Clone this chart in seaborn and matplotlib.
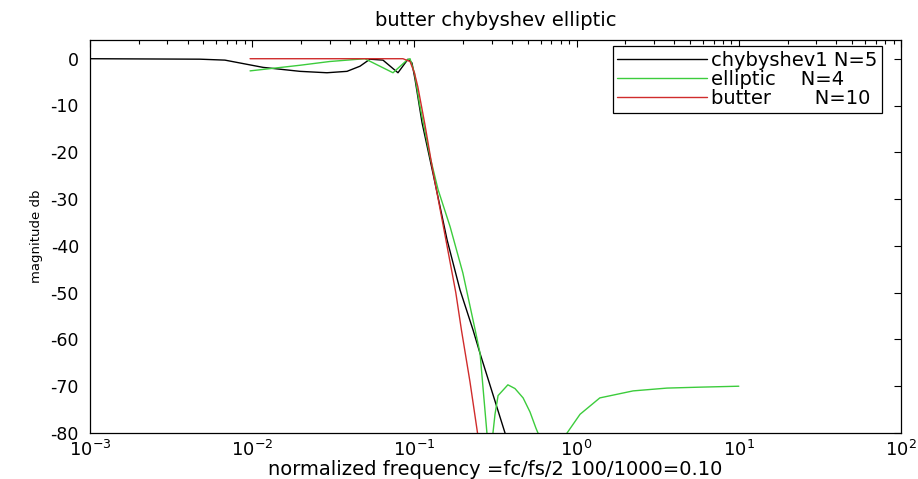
import numpy as np
import pandas as pd
import matplotlib
matplotlib.use("Agg")
import matplotlib.pyplot as plt
import seaborn as sns

# ---- data (normalized frequency, magnitude dB) ----
cheb_f = [0.001, 0.00476, 0.00679, 0.01166, 0.0197, 0.0289, 0.0384, 0.0462, 0.0532,
          0.064, 0.0792, 0.0913, 0.0966, 0.101, 0.1115, 0.130, 0.159, 0.191, 0.230,
          0.254, 0.362, 0.40]
cheb_db = [0, -0.1, -0.3, -1.85, -2.7, -3.0, -2.7, -1.6, -0.1,
           -0.3, -3.0, -0.1, -0.9, -4.5, -13.7, -24.4, -38.7, -49.4, -58,
           -63, -80, -85]

ellip_f = [0.0097, 0.0197, 0.030, 0.0495, 0.0738, 0.090, 0.094, 0.1, 0.108, 0.125,
           0.140, 0.166, 0.199, 0.237, 0.254, 0.280, 0.292, 0.305, 0.314, 0.328,
           0.377, 0.417, 0.468, 0.516, 0.562, 0.578, 0.705, 0.873, 1.05, 1.39,
           2.23, 3.61, 5.77, 10.0]
ellip_db = [-2.6, -1.4, -0.6, 0, -3.0, -0.3, 0, -3, -10, -21,
            -28, -35.9, -45.8, -58, -63, -80, -100, -80, -76, -72,
            -69.7, -70.5, -72.5, -75.5, -79, -80, -100, -80, -76, -72.5,
            -71, -70.4, -70.2, -70.0]

butter_f = [0.0097, 0.085, 0.094, 0.1, 0.105, 0.116, 0.130, 0.155, 0.180, 0.195,
            0.220, 0.245, 0.262]
butter_db = [0, 0, -0.6, -3, -6, -14, -24, -38, -50, -58,
             -69, -80, -86]

labels = ["chybyshev1 N=5", "elliptic    N=4", "butter       N=10"]
colors = ["#000000", "#3ccc3c", "#d02c2c"]
y_ticks = list(range(-80, 1, 10))
title = "butter chybyshev elliptic"
xlabel = "normalized frequency =fc/fs/2 100/1000=0.10"
ylabel = "magnitude db"

df = pd.concat([
    pd.DataFrame({"f": cheb_f, "db": cheb_db, "filter": labels[0]}),
    pd.DataFrame({"f": ellip_f, "db": ellip_db, "filter": labels[1]}),
    pd.DataFrame({"f": butter_f, "db": butter_db, "filter": labels[2]}),
], ignore_index=True)

sns.set_theme(style="white")
plt.rcParams["font.family"] = ["DejaVu Sans"]
plt.rcParams["text.color"] = "black"
plt.rcParams["axes.labelcolor"] = "black"

W, H = 918, 479
fig = plt.figure(figsize=(W / 100, H / 100), dpi=100)
L, R, T, B = 90, 901, 40, 433
ax = fig.add_axes([L / W, 1 - B / H, (R - L) / W, (B - T) / H])

sns.lineplot(data=df, x="f", y="db", hue="filter", hue_order=labels,
             palette=dict(zip(labels, colors)), estimator=None, sort=False,
             linewidth=1.0, ax=ax)

ax.set_xscale("log")
ax.set_xlim(1e-3, 1e2)
ax.set_ylim(-80, 4)
ax.set_yticks(y_ticks)
ax.set_yticklabels([str(v) for v in y_ticks])
ax.tick_params(axis="both", which="both", direction="in", top=True, right=True,
               colors="black")
ax.tick_params(axis="x", labelsize=13, pad=5)
ax.tick_params(axis="y", labelsize=12.5, pad=8)
ax.tick_params(which="major", length=5, width=0.8)
ax.tick_params(which="minor", length=3, width=0.8)
for s in ax.spines.values():
    s.set_color("black")
    s.set_linewidth(0.9)

ax.set_xlabel(xlabel, fontsize=14, labelpad=0)
ax.set_ylabel(ylabel, fontsize=9.5, labelpad=5)
ax.set_title(title, fontsize=14, pad=10)

leg = ax.legend(loc="upper right",
                bbox_to_anchor=((882 - L) / (R - L), (B - 46) / (B - T)),
                borderaxespad=0, frameon=True, fancybox=False, framealpha=1,
                edgecolor="black", fontsize=14, handlelength=4.6,
                handletextpad=0.2, borderpad=0.25, labelspacing=0.0)
leg.get_frame().set_linewidth(0.9)
for line in leg.get_lines():
    line.set_linewidth(1.0)

fig.savefig("out.png", dpi=100)
